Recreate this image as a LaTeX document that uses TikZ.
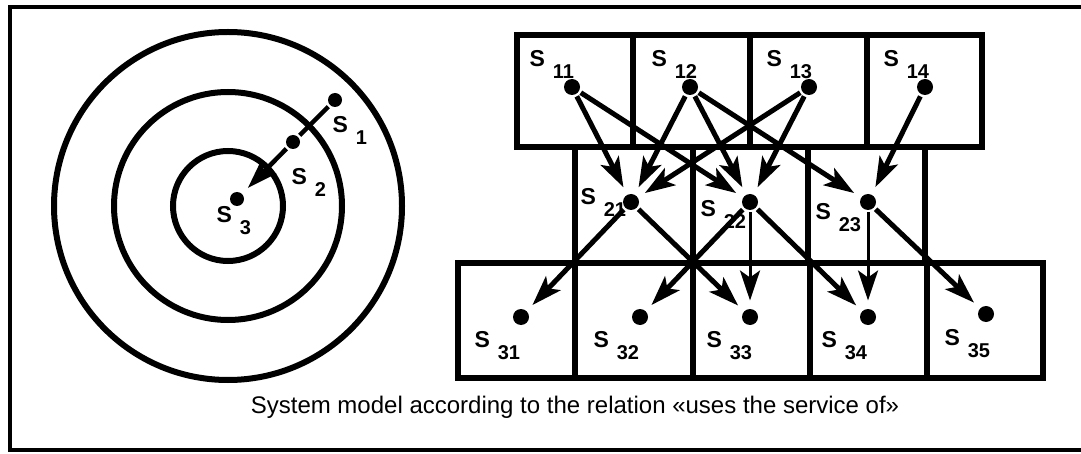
\documentclass[tikz,border=0pt]{standalone}
\usepackage{fontspec}
\setmainfont{Liberation Sans}
\usetikzlibrary{arrows.meta}
\newcommand{\slab}[1]{S\hspace{8pt}\raisebox{-12pt}{\fontsize{20}{20}\selectfont #1}}

\begin{document}
\begin{tikzpicture}[x=1pt, y=-1pt, line width=5pt,
  every node/.style={font=\fontsize{23}{23}\selectfont\bfseries, inner sep=0pt},
  dot/.style={circle, fill, minimum size=16pt},
  lab/.style={anchor=base west},
  uses/.style={-{Stealth[length=30pt,width=20pt,inset=7pt]}, line width=5pt, shorten >=6pt}]
\useasboundingbox (0,0) rectangle (1081,454);

% frame
\draw[line width=3.5pt] (1090,7) -- (10,7) -- (10,450) -- (1090,450);

% layers as rings
\draw[line width=6pt] (228,206) circle (174) (228,206) circle (114) (228,206) circle (55);
\node[dot, minimum size=14pt] (s1) at (335,100) {};
\node[dot, minimum size=14pt] (s2) at (293,142) {};
\node[dot, minimum size=14pt] (s3) at (237,199) {};
\node[lab] (l1) at (330,133) {\slab{1}};
\node[lab] (l2) at (289,185) {\slab{2}};
\node[lab] (l3) at (214,223) {\slab{3}};
\draw[line width=4.5pt] (s1) -- (s2);
\draw[uses, line width=4.5pt] (s2) -- (s3);

% layers as boxes
\draw[line width=6.5pt] (517,35) rectangle (982,147);
\draw[line width=6.5pt] (633,35) -- (633,147) (750,35) -- (750,147) (867,35) -- (867,147);
\draw[line width=6.5pt] (575,147) rectangle (925,263);
\draw[line width=6.5pt] (693,147) -- (693,263) (808,147) -- (808,263);
\draw[line width=6.5pt] (458,263) rectangle (1043,378);
\draw[line width=6.5pt] (575,263) -- (575,378) (693,263) -- (693,378) (810,263) -- (810,378) (927,263) -- (927,378);

% top row
\node[dot] (s11) at (572,87) {};
\node[dot] (s12) at (690,87) {};
\node[dot] (s13) at (809,87) {};
\node[dot] (s14) at (925,87) {};
\node[lab] (l11) at (527,67) {\slab{11}};
\node[lab] (l12) at (649,67) {\slab{12}};
\node[lab] (l13) at (764,67) {\slab{13}};
\node[lab] (l14) at (881,67) {\slab{14}};

% middle row
\node[dot] (s21) at (631,202) {};
\node[dot] (s22) at (750,202) {};
\node[dot] (s23) at (868,202) {};
\node[lab] (l21) at (578,205) {\slab{21}};
\node[lab] (l22) at (698,217) {\slab{22}};
\node[lab] (l23) at (813,220) {\slab{23}};

% bottom row
\node[dot] (s31) at (521,317) {};
\node[dot] (s32) at (640,317) {};
\node[dot] (s33) at (750,317) {};
\node[dot] (s34) at (868,317) {};
\node[dot] (s35) at (986,314) {};
\node[lab] (l31) at (472,347) {\slab{31}};
\node[lab] (l32) at (591,347) {\slab{32}};
\node[lab] (l33) at (704,347) {\slab{33}};
\node[lab] (l34) at (819,347) {\slab{34}};
\node[lab] (l35) at (942,345) {\slab{35}};

% uses the service of
\draw[uses] (s11) -- (s21);
\draw[uses] (s11) -- (s22);
\draw[uses] (s12) -- (s21);
\draw[uses] (s12) -- (s22);
\draw[uses] (s12) -- (s23);
\draw[uses] (s13) -- (s21);
\draw[uses] (s13) -- (s22);
\draw[uses] (s14) -- (s23);
\draw[uses] (s21) -- (s31);
\draw[uses] (s21) -- (s33);
\draw[uses] (s22) -- (s32);
\draw[uses, line width=3pt] (s22) -- (s33);
\draw[uses] (s22) -- (s34);
\draw[uses, line width=3pt] (s23) -- (s34);
\draw[uses] (s23) -- (s35);

% caption
\node[font=\fontsize{24}{24}\selectfont, anchor=base] (cap) at (575,413)
  {System model according to the relation «uses the service of»};
\end{tikzpicture}
\end{document}
